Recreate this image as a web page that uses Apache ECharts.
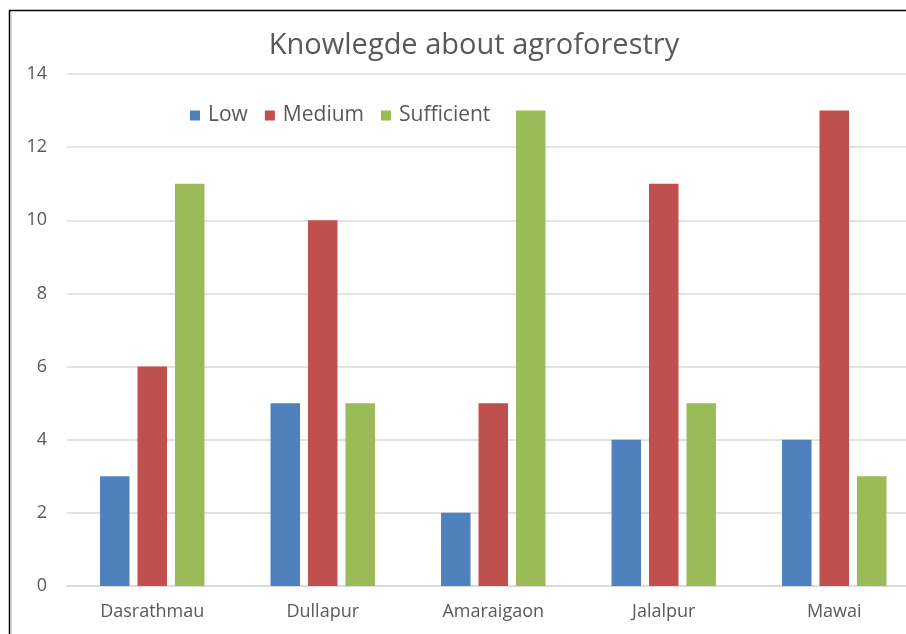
<!DOCTYPE html>
<html><head><meta charset="utf-8">
<script src="https://cdn.jsdelivr.net/npm/echarts@6/dist/echarts.min.js"></script>
<style>html,body{margin:0;padding:0;background:#fff;overflow:hidden}#c{width:940px;height:634px}</style>
</head><body><div id="c"></div>
<script>
const categories = ['Dasrathmau', 'Dullapur', 'Amaraigaon', 'Jalalpur', 'Mawai'];
const lowValues = [3, 5, 2, 4, 4];
const mediumValues = [6, 10, 5, 11, 13];
const sufficientValues = [11, 5, 13, 5, 3];
const seriesNames = ['Low', 'Medium', 'Sufficient'];
const titleText = 'Knowlegde about agroforestry';

const FONT = '"Open Sans", sans-serif';
const chart = echarts.init(document.getElementById('c'), null, {renderer: 'canvas'});
const colors = ['#4F81BD', '#C0504D', '#9BBB59'];
const mk = (name, data, i) => ({
  name, type: 'bar', data, barWidth: 29.5, barGap: '27%',
  itemStyle: {color: colors[i]}, animation: false
});
chart.setOption({
  animation: false,
  graphic: [
    {type: 'rect', shape: {x: 9.5, y: 10.5, width: 1000, height: 1000}, style: {fill: null, stroke: '#000', lineWidth: 1.5}, z: 100},
    {type: 'line', shape: {x1: 11.5, y1: 12, x2: 11.5, y2: 640}, style: {stroke: '#d9d9d9', lineWidth: 1}, z: 100}
  ],
  title: {
    text: titleText, left: 469, textAlign: 'center', top: 26,
    textStyle: {fontFamily: FONT, fontSize: 29, fontWeight: 'normal', color: '#595959'}
  },
  legend: {
    data: seriesNames, left: 185, top: 100, icon: 'rect', itemWidth: 10, itemHeight: 10, itemGap: 17,
    textStyle: {fontFamily: FONT, fontSize: 21, color: '#595959', padding: [0, 0, 0, 3]}
  },
  grid: {left: 67, top: 74, width: 852.5, height: 512, containLabel: false, outerBoundsMode: 'none'},
  xAxis: {
    type: 'category', data: categories,
    axisLine: {lineStyle: {color: '#d9d9d9', width: 1.5}}, axisTick: {show: false},
    axisLabel: {fontFamily: FONT, fontSize: 18, color: '#595959', margin: 17}
  },
  yAxis: {
    type: 'value', min: 0, max: 14, interval: 2,
    axisLine: {show: false}, axisTick: {show: false},
    splitLine: {lineStyle: {color: '#d9d9d9', width: 1.5}},
    axisLabel: {fontFamily: FONT, fontSize: 18, color: '#595959', margin: 20}
  },
  series: [mk(seriesNames[0], lowValues, 0), mk(seriesNames[1], mediumValues, 1), mk(seriesNames[2], sufficientValues, 2)]
});
</script></body></html>
